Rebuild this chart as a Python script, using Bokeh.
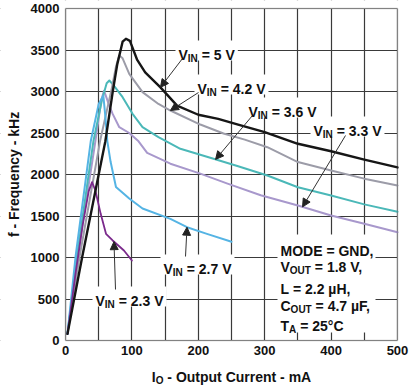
import numpy as np
from bokeh.plotting import figure
from bokeh.models import Label, Arrow, NormalHead, BoxAnnotation, FixedTicker, Range1d
from bokeh.embed import file_html
from bokeh.resources import INLINE

# ---------------- data ----------------
X_TICKS = [0, 100, 200, 300, 400, 500]
X_GRID = [0, 50, 100, 150, 200, 250, 300, 350, 400, 450, 500]
Y_TICKS = [0, 500, 1000, 1500, 2000, 2500, 3000, 3500, 4000]

I_50 = [3, 25, 60, 71, 78, 86, 91, 97, 108, 120, 143, 168, 200, 230, 260, 300, 350, 400, 450, 500]
F_50 = [80, 1000, 2400, 2990, 3330, 3600, 3635, 3610, 3380, 3230, 3050, 2830, 2720, 2670, 2600, 2510, 2370, 2280, 2180, 2085]

I_42 = [3, 21, 52, 70, 76, 81, 86, 96, 116, 140, 158, 203, 238, 270, 304, 350, 400, 450, 500]
F_42 = [80, 1000, 2400, 3050, 3300, 3434, 3400, 3213, 2993, 2850, 2771, 2602, 2494, 2420, 2329, 2150, 2048, 1950, 1867]

I_36 = [3, 17, 42, 55, 62, 66, 72, 86, 101, 116, 140, 173, 223, 260, 304, 350, 400, 450, 500]
F_36 = [80, 1000, 2400, 2900, 3100, 3133, 3080, 2932, 2731, 2570, 2450, 2310, 2189, 2100, 1988, 1847, 1747, 1640, 1550]

I_33 = [3, 18, 45, 54, 58, 65, 71, 81, 96, 110, 123, 158, 203, 244, 294, 350, 400, 450, 500]
F_33 = [80, 1000, 2400, 2900, 3010, 2850, 2730, 2570, 2500, 2400, 2260, 2130, 2010, 1890, 1750, 1627, 1506, 1406, 1305]

I_27 = [3, 15, 38, 50, 57, 60, 63, 68, 76, 96, 116, 158, 183, 213, 250]
F_27 = [80, 1000, 2400, 2850, 2950, 2700, 2400, 2150, 1850, 1710, 1590, 1466, 1365, 1285, 1190]

I_23 = [3, 15, 26, 35, 40, 45, 53, 61, 71, 88, 100]
F_23 = [80, 800, 1400, 1800, 1908, 1807, 1526, 1285, 1205, 1084, 964]

NB = "\u00a0"
SERIES_LABELS = ["5 V", "4.2 V", "3.6 V", "3.3 V", "2.7 V", "2.3 V"]
COND_LINES = [
    [("MODE = GND,", False)],
    [("V", False), ("OUT", True), (" = 1.8 V,", False)],
    [("L = 2.2 \u00b5H,", False)],
    [("C", False), ("OUT", True), (" = 4.7 \u00b5F,", False)],
    [("T", False), ("A", True), (" = 25\u00b0C", False)],
]
X_LABEL = [("I", False), ("O", True), (" - Output Current - mA", False)]
Y_LABEL = "f - Frequency - kHz"

FONT = "Liberation Sans"
GRID_C = "#3a3a3a"
TXT_C = "#111111"

# ---------------- geometry (page px) ----------------
FL, FR, FT, FB = 65, 397, 8, 340   # visible plot box edges
W_PX, H_PX = 409, 385

def X(px):
    return (px - FL) * 500.0 / (FR - FL)

def Y(py):
    return (FB - py) * 4000.0 / (FB - FT)

# the Bokeh frame covers the whole canvas; the visible box is 0..500 x 0..4000
p = figure(width=W_PX, height=H_PX, output_backend="svg", toolbar_location=None,
           x_range=Range1d(X(0), X(W_PX)), y_range=Range1d(Y(H_PX), Y(0)),
           min_border_left=0, min_border_right=0,
           min_border_top=0, min_border_bottom=0)
p.styles = {"position": "absolute", "top": "0px", "left": "0px"}
p.background_fill_color = "white"
p.border_fill_color = "white"
p.outline_line_color = None

p.xaxis.ticker = FixedTicker(ticks=X_TICKS)
p.xaxis.fixed_location = 0
p.xaxis.bounds = (0, 500)
p.yaxis.ticker = FixedTicker(ticks=Y_TICKS)
p.yaxis.fixed_location = 0
p.yaxis.bounds = (0, 4000)
p.xgrid.ticker = FixedTicker(ticks=X_GRID)
p.ygrid.ticker = FixedTicker(ticks=Y_TICKS)
for g in (p.xgrid, p.ygrid):
    g.grid_line_color = GRID_C
    g.grid_line_width = 1.2

# hide grid outside the plot box
for kw in (dict(top=0), dict(bottom=4000), dict(right=0), dict(left=500)):
    p.add_layout(BoxAnnotation(fill_color="white", fill_alpha=1.0, line_color=None,
                               line_alpha=0, level="underlay", **kw))

for ax in (p.xaxis, p.yaxis):
    ax.axis_line_color = None
    ax.major_tick_line_color = None
    ax.minor_tick_line_color = None
    ax.major_tick_out = 0
    ax.major_tick_in = 0
    ax.minor_tick_out = 0
    ax.minor_tick_in = 0
    ax.major_label_text_font = FONT
    ax.major_label_text_font_style = "bold"
    ax.major_label_text_font_size = "13px"
    ax.major_label_text_color = TXT_C
p.xaxis.major_label_standoff = 5
p.yaxis.major_label_standoff = 6

p.yaxis.axis_label = Y_LABEL
p.yaxis.axis_label_text_font = FONT
p.yaxis.axis_label_text_font_style = "bold"
p.yaxis.axis_label_text_font_size = "14px"
p.yaxis.axis_label_text_color = TXT_C
p.yaxis.axis_label_standoff = 6

# ---------------- curves ----------------
curves = [
    (I_33, F_33, "#a898cc", 2.0),
    (I_36, F_36, "#4bb8b8", 2.0),
    (I_42, F_42, "#9c9ca8", 2.0),
    (I_27, F_27, "#55b4e4", 2.0),
    (I_23, F_23, "#7b2a8c", 1.8),
    (I_50, F_50, "#161616", 2.4),
]
for xs, ys, c, w in curves:
    p.line(xs, ys, line_color=c, line_width=w, line_join="round", line_cap="round")

# plot box outline
p.add_layout(BoxAnnotation(left=0, right=500, bottom=0, top=4000,
                           fill_alpha=0, line_color="#444444", line_width=1.5,
                           level="guide"))

# ---------------- annotations ----------------
CW = {' ': 278, NB: 278, '=': 584, '.': 278, ',': 278, '-': 333, 'V': 667, 'I': 278, 'N': 722,
      'O': 778, 'U': 722, 'T': 611, 'A': 722, 'M': 833, 'D': 722, 'E': 667, 'G': 778,
      'L': 611, 'C': 722, 'H': 722, 'F': 611, '\u00b5': 611, '\u00b0': 400,
      'u': 611, 't': 333, 'p': 611, 'r': 389, 'e': 556, 'n': 611, 'm': 889}

def width(t, size):
    return sum(CW.get(ch, 556) for ch in t) * size / 1000.0

def rich(x0, yb, parts, size=14, sub=10, drop=4):
    x = x0
    for txt, is_sub in parts:
        s = sub if is_sub else size
        txt = txt.replace(" ", NB)
        p.add_layout(Label(x=X(x), y=Y(yb + (drop if is_sub else 0)), text=txt,
                           text_font=FONT, text_font_style="bold",
                           text_font_size=f"{s}px", text_color=TXT_C,
                           text_baseline="alphabetic", text_align="left"))
        x += width(txt, s)
    return x

def white_box(x0, x1, y0, y1):
    p.add_layout(BoxAnnotation(left=X(x0), right=X(x1), top=Y(y0), bottom=Y(y1),
                               fill_color="white", fill_alpha=1.0, line_color=None,
                               line_alpha=0))

label_pos = [(178, 54), (197, 88), (248, 111), (313, 130), (163, 268), (95, 300)]
arrow_start = [(182, 58), (198, 92), (252, 115), (345, 135), (185, 256), (115, 289)]
arrow_target = [143, 158, 226, 357, 183, 73]
curve_for = [(I_50, F_50), (I_42, F_42), (I_36, F_36), (I_33, F_33), (I_27, F_27), (I_23, F_23)]

for (lx, ly), lab in zip(label_pos, SERIES_LABELS):
    w = width("V", 14) + width("IN", 10) + width(" = " + lab, 14)
    white_box(lx - 3, lx + w + 3, ly - 14, ly + 6)
white_box(277, 375, 234, 332)

for (sx, sy), xt, (ci, cf) in zip(arrow_start, arrow_target, curve_for):
    yt = float(np.interp(xt, ci, cf))
    p.add_layout(Arrow(x_start=X(sx), y_start=Y(sy), x_end=xt, y_end=yt,
                       line_color="#333333", line_width=1,
                       end=NormalHead(size=8, fill_color="#222222",
                                      line_color="#222222", line_width=1)))

for (lx, ly), lab in zip(label_pos, SERIES_LABELS):
    rich(lx, ly, [("V", False), ("IN", True), (" = " + lab, False)])

cond_baselines = [250, 266, 288, 305, 325]
for yb, parts in zip(cond_baselines, COND_LINES):
    rich(280, yb, parts)

xl_w = sum(width(t, 10 if s else 14) for t, s in X_LABEL)
rich((FL + FR) / 2 - xl_w / 2, 376, X_LABEL)

open("out.html", "w").write(file_html(p, INLINE))
